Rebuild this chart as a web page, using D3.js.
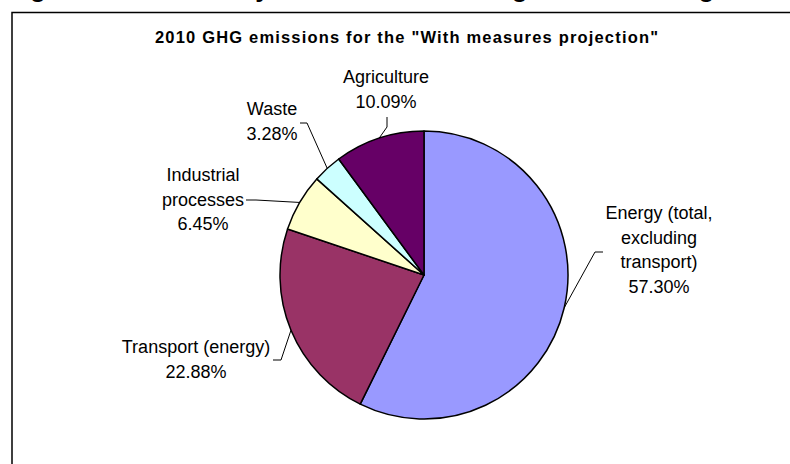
<!DOCTYPE html>
<html>
<head>
<meta charset="utf-8">
<script src="https://cdn.jsdelivr.net/npm/d3@7"></script>
<style>
  body { margin: 0; background: #fff; }
  text { font-family: "Liberation Sans", Arial, sans-serif; }
</style>
</head>
<body>
<div id="pie"></div>
<script>
// data
var sectors = ["Energy (total, excluding transport)", "Transport (energy)", "Industrial processes", "Waste", "Agriculture"];
var shares = [57.30, 22.88, 6.45, 3.28, 10.09];
var colors = ["#9999ff", "#993366", "#ffffcc", "#ccffff", "#660066"];
// how each label is broken into lines
var labelLines = [
  ["Energy (total,", "excluding", "transport)"],
  ["Transport (energy)"],
  ["Industrial", "processes"],
  ["Waste"],
  ["Agriculture"]
];

// label layout: text centre, first baseline, leader start and elbow
var labelPos = [
  {x: 659, y: 219, l0: [603, 252], l1: [595, 252]},
  {x: 196, y: 353, l0: [273, 360], l1: [281, 360]},
  {x: 203, y: 181, l0: [246, 200], l1: [256, 200]},
  {x: 272, y: 115, l0: [300, 123], l1: [307, 123]},
  {x: 386, y: 83,  l0: [387, 117], l1: [387, 127]}
];

var width = 790, height = 464;
var cx = 424, cy = 275, radius = 144;

var svg = d3.select("#pie")
  .append("svg")
    .attr("width", width)
    .attr("height", height);

// caption of the page, cut off at the top
var cap = svg.append("text")
    .attr("y", -3.5)
    .style("font-size", "26px")
    .style("font-weight", "bold");
cap.append("tspan").attr("x", 7).text("Figure");
cap.append("tspan").attr("x", 105).text("emissions by");
cap.append("tspan").attr("x", 412).text("including");
cap.append("tspan").attr("x", 593).text("excluding");

// chart frame (runs off the right and bottom)
svg.append("rect")
    .attr("x", 12)
    .attr("y", 12.5)
    .attr("width", 820)
    .attr("height", 500)
    .attr("fill", "#fff")
    .attr("stroke", "#000")
    .attr("stroke-width", 1.5);

svg.append("text")
    .attr("x", 155)
    .attr("y", 43)
    .attr("textLength", 503)
    .attr("lengthAdjust", "spacing")
    .style("font-size", "16.5px")
    .style("font-weight", "bold")
    .text("2010 GHG emissions for the \"With measures projection\"");

var data = sectors.map(function(s, i) {
  return {name: s, value: shares[i], color: colors[i], lines: labelLines[i], pos: labelPos[i]};
});

var pie = d3.pie()
  .sort(null)
  .value(function(d) { return d.value; });

var arc = d3.arc()
  .innerRadius(0)
  .outerRadius(radius);

var arcs = pie(data);

var g = svg.append("g")
    .attr("transform", "translate(" + cx + "," + cy + ")");

g.selectAll("path")
  .data(arcs)
  .enter()
  .append("path")
    .attr("d", arc)
    .attr("fill", function(d) { return d.data.color; })
    .attr("stroke", "#000")
    .attr("stroke-width", 1.5)
    .attr("stroke-linejoin", "round");

// leader lines
arcs.forEach(function(d) {
  var a = (d.startAngle + d.endAngle) / 2;
  var ex = cx + radius * Math.sin(a),
      ey = cy - radius * Math.cos(a);
  var p = d.data.pos;
  svg.append("polyline")
    .attr("points", [p.l0, p.l1, [ex, ey]].map(function(q) { return q.join(","); }).join(" "))
    .attr("fill", "none")
    .attr("stroke", "#000")
    .attr("stroke-width", 1);
});

// labels
arcs.forEach(function(d) {
  var p = d.data.pos;
  var t = svg.append("text")
      .attr("text-anchor", "middle")
      .style("font-size", "18px")
      .attr("fill", "#000");
  var lines = d.data.lines.concat([d.data.value.toFixed(2) + "%"]);
  lines.forEach(function(line, i) {
    t.append("tspan")
      .attr("x", p.x)
      .attr("y", p.y + i * 24.5)
      .text(line);
  });
});
</script>
</body>
</html>
